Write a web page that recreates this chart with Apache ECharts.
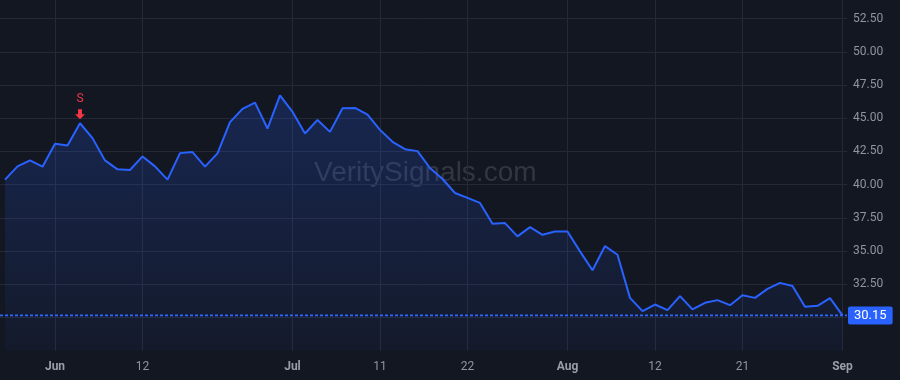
<!DOCTYPE html>
<html>
<head>
<meta charset="utf-8">
<script src="https://cdn.jsdelivr.net/npm/echarts@6/dist/echarts.min.js"></script>
<style>
html,body{margin:0;padding:0;background:#131722;}
#chart{width:900px;height:380px;}
</style>
</head>
<body>
<div id="chart"></div>
<script>
const dates = ['2024-05-28','2024-05-29','2024-05-30','2024-05-31',
'2024-06-03','2024-06-04','2024-06-05','2024-06-06','2024-06-07','2024-06-10','2024-06-11','2024-06-12','2024-06-13','2024-06-14','2024-06-17','2024-06-18','2024-06-20','2024-06-21','2024-06-24','2024-06-25','2024-06-26','2024-06-27','2024-06-28',
'2024-07-01','2024-07-02','2024-07-03','2024-07-05','2024-07-08','2024-07-09','2024-07-10','2024-07-11','2024-07-12','2024-07-15','2024-07-16','2024-07-17','2024-07-18','2024-07-19','2024-07-22','2024-07-23','2024-07-24','2024-07-25','2024-07-26','2024-07-29','2024-07-30','2024-07-31',
'2024-08-01','2024-08-02','2024-08-05','2024-08-06','2024-08-07','2024-08-08','2024-08-09','2024-08-12','2024-08-13','2024-08-14','2024-08-15','2024-08-16','2024-08-19','2024-08-20','2024-08-21','2024-08-22','2024-08-23','2024-08-26','2024-08-27','2024-08-28','2024-08-29','2024-08-30',
'2024-09-03'];
const prices = [40.37,41.37,41.82,41.35,43.07,42.95,44.62,43.50,41.82,41.15,41.10,42.12,41.37,40.37,42.37,42.45,41.35,42.35,44.70,45.70,46.17,44.22,46.72,45.48,43.85,44.87,43.97,45.75,45.77,45.27,44.12,43.22,42.67,42.52,41.25,40.42,39.37,39.00,38.62,37.05,37.10,36.10,36.80,36.22,36.47,36.47,34.97,33.55,35.37,34.72,31.47,30.47,30.97,30.55,31.60,30.60,31.10,31.30,30.92,31.67,31.47,32.15,32.60,32.37,30.80,30.87,31.45,30.15];
const tickIndex = [4,11,23,30,37,45,52,59,67];
const tickLabels = ['Jun','12','Jul','11','22','Aug','12','21','Sep'];
const monthLabels = ['Jun','Jul','Aug','Sep'];
const signalIndex = 6;
const signalText = 'S';
const lastPrice = 30.15;
const watermark = 'VeritySignals.com';

const xMin = -0.4, xMax = 67.36;
const chart = echarts.init(document.getElementById('chart'), null, {renderer:'canvas'});
const seriesData = prices.map((v,i)=>[i,v]);
const gridColor = '#252935';
const labelColor = '#9094a0';
chart.setOption({
  animation:false,
  backgroundColor:'#131722',
  grid:{left:0,right:53,top:0,bottom:29.4,containLabel:false},
  graphic:[{
    type:'text', left:314, top:159, z:0,
    style:{text:watermark, fill:'rgba(120,126,140,0.30)', font:'28px "Liberation Sans", Arial, sans-serif'}
  }],
  xAxis:{
    type:'value', min:xMin, max:xMax,
    axisLine:{show:false},
    axisTick:{show:false, customValues:tickIndex},
    splitLine:{show:true, lineStyle:{color:gridColor,width:1}},
    axisLabel:{
      customValues:tickIndex, margin:10,
      color:labelColor, fontFamily:'Roboto, sans-serif', fontSize:12,
      formatter:function(v){
        const k = tickIndex.indexOf(Math.round(v));
        if(k<0) return '';
        const t = tickLabels[k];
        return monthLabels.indexOf(t)>=0 ? '{m|'+t+'}' : t;
      },
      rich:{m:{fontWeight:'bold',color:'#9a9ea7',fontFamily:'Roboto, sans-serif',fontSize:12}}
    }
  },
  yAxis:{
    type:'value', position:'right', min:27.5, max:53.9, interval:2.5,
    axisLine:{show:false}, axisTick:{show:false},
    splitLine:{show:true, showMinLine:false, showMaxLine:false, lineStyle:{color:gridColor,width:1}},
    axisLabel:{
      margin:6, color:labelColor, fontFamily:'Roboto, sans-serif', fontSize:12,
      showMaxLabel:false, showMinLabel:false,
      formatter:function(v){ return (v<=30.01 || v>53) ? '' : v.toFixed(2); }
    }
  },
  series:[{
    type:'line', data:seriesData, symbol:'none', smooth:false, z:3,
    lineStyle:{color:'#2962ff',width:2},
    areaStyle:{color:new echarts.graphic.LinearGradient(0,0,0,1,[
      {offset:0,color:'rgba(41,98,255,0.30)'},
      {offset:1,color:'rgba(41,98,255,0.06)'}])},
    markPoint:{
      silent:true,
      data:[{
        coord:[signalIndex, prices[signalIndex]],
        symbol:'path://M3,0 L7,0 L7,5 L10,5 L5,10 L0,5 L3,5 Z',
        symbolSize:[10,10], symbolOffset:[0,-9],
        itemStyle:{color:'#f23645'},
        label:{show:true, position:'top', distance:4, formatter:signalText, color:'#f23645', fontSize:12, fontFamily:'Roboto, sans-serif'}
      }]
    }
  },{
    type:'line', data:[[xMin,lastPrice],[xMax,lastPrice]], symbol:'none', silent:true, z:4,
    lineStyle:{color:'#2f66ff',width:1.6,type:[3,2]},
    endLabel:{show:true, distance:1, formatter:function(){return lastPrice.toFixed(2);},
      color:'#ffffff', backgroundColor:'#2962ff', padding:[3,6,2,6], borderRadius:2,
      fontFamily:'Roboto, sans-serif', fontSize:13}
  }]
});
</script>
</body>
</html>
